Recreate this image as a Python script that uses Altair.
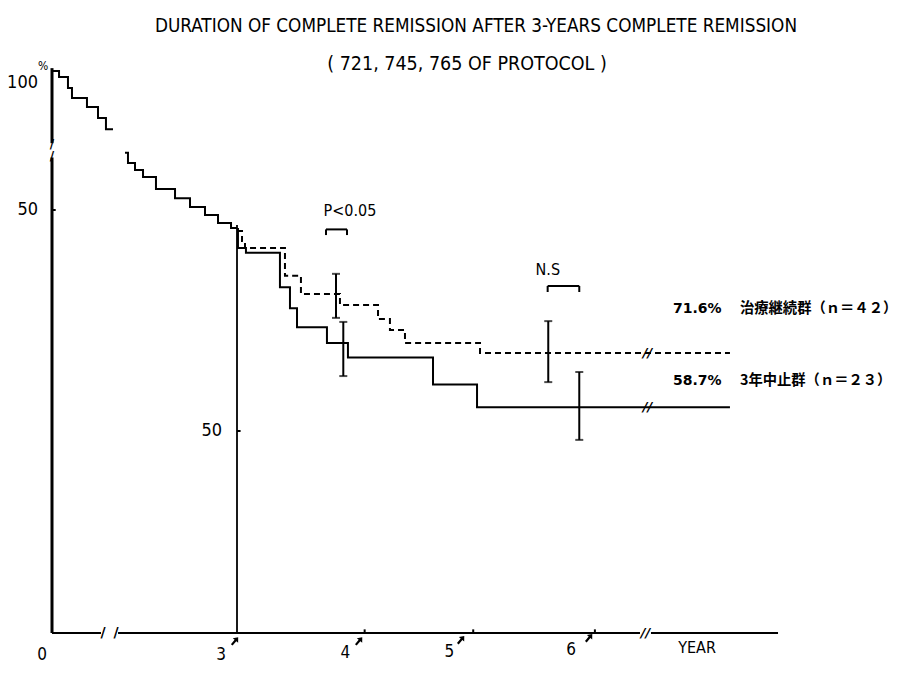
import altair as alt
import pandas as pd

# ------------------------------------------------------------------
# DATA
# ------------------------------------------------------------------
# Before 3 years: outer scale (% of all patients in CR), x in years
pre_seg1_year = [0.0, 0.114, 0.259, 0.324, 0.567, 0.746, 0.875, 0.989]
pre_seg1_pct = [100.4, 98.2, 94.2, 90.6, 87.3, 83.3, 79.3, 79.3]
pre_seg2_year = [1.184, 1.232, 1.346, 1.476, 1.686, 1.995, 2.238, 2.481, 2.692, 2.903, 3.0]
pre_seg2_pct = [70.7, 67.0, 64.5, 62.0, 57.6, 54.3, 51.1, 48.2, 45.3, 43.5, 43.5]

# After 3 years CR: inner scale (% of patients still in CR at 3 years)
cont_year = [3.0, 3.042, 3.067, 3.402, 3.536, 3.863, 4.182, 4.282, 4.408, 5.037, 7.132]
cont_pct = [99.5, 97.0, 95.3, 88.4, 83.9, 81.2, 77.7, 75.0, 71.8, 69.3, 69.3]
stop_year = [3.0, 3.008, 3.075, 3.360, 3.444, 3.503, 3.754, 3.930, 4.643, 5.012, 7.132]
stop_pct = [100.0, 95.3, 94.1, 85.6, 80.4, 75.7, 71.8, 68.2, 61.5, 55.9, 55.9]

# error bars
err_year = [3.830, 3.891, 5.609, 5.869]
err_low = [78.0, 63.6, 62.1, 47.8]
err_high = [88.9, 77.0, 77.2, 64.6]

# significance brackets
br_x1 = [3.746, 5.604]
br_x2 = [3.922, 5.869]
br_y = [99.9, 85.9]
br_leg = [98.5, 84.4]
br_text = ["P<0.05", "N.S"]
br_text_x = [3.947, 5.605]
br_text_y = [104.5, 89.9]

# end-of-curve annotations
leg_pct_text = ["71.6%", "58.7%"]
leg_name_text = ["治療継続群（ｎ＝４２）", "3年中止群（ｎ＝２３）"]
leg_y = [80.2, 62.4]
leg_pct_x = 6.655
leg_name_x = 7.216

# x axis labels (as placed in the picture)
xlab_text = ["3", "4", "5", "6"]
xlab_pos = [2.866, 3.908, 4.780, 5.800]
xlab_y = [-5.4, -5.0, -4.7, -4.2]
arrow_pos = [2.983, 4.023, 4.878, 5.951]
arrow_y = [-2.0, -2.0, -1.7, -1.2]
xtick_pos = [4.07, 4.98, 6.0]

TITLE = "DURATION OF COMPLETE REMISSION AFTER 3-YEARS COMPLETE REMISSION"
SUBTITLE = "( 721, 745, 765 OF PROTOCOL )"

# ------------------------------------------------------------------
# LAYOUT
# ------------------------------------------------------------------
W, H = 895, 657
PAGE = 8
# inner scale anchors (page px)
BX0, BPX = 237.0, 119.3     # year 3 at 237px
BY0, BPCT = 633.0, 4.04     # 0 % at 633px
# outer scale anchors
AX0, APX = 52.0, 61.667     # year 0 at 52px
AY0, APCT = 348.0, 2.76     # 0 % at 348px (100 % at 72px)

xb_dom = [3 + (PAGE - BX0) / BPX, 3 + (PAGE + W - BX0) / BPX]
yb_dom = [(BY0 - (PAGE + H)) / BPCT, (BY0 - PAGE) / BPCT]
xa_dom = [(PAGE - AX0) / APX, (PAGE + W - AX0) / APX]
ya_dom = [(AY0 - (PAGE + H)) / APCT, (AY0 - PAGE) / APCT]

COND = "DejaVu Sans Condensed, Liberation Sans Narrow, Roboto Condensed, DejaVu Sans"
BOLD = "DejaVu Sans"
CJK = "Noto Sans CJK JP"
ARROW = "M0,-1L0.7,-0.15L0.22,-0.15L0.22,1L-0.22,1L-0.22,-0.15L-0.7,-0.15Z"


def XA(f="x"):
    return alt.X(f"{f}:Q", scale=alt.Scale(domain=xa_dom, nice=False, zero=False), axis=None)


def YA(f="y"):
    return alt.Y(f"{f}:Q", scale=alt.Scale(domain=ya_dom, nice=False, zero=False), axis=None)


def XB(f="x"):
    return alt.X(f"{f}:Q", scale=alt.Scale(domain=xb_dom, nice=False, zero=False), axis=None)


def YB(f="y"):
    return alt.Y(f"{f}:Q", scale=alt.Scale(domain=yb_dom, nice=False, zero=False), axis=None)


# ------------------------------------------------------------------
# LAYER A: before 3 years (outer scale)
# ------------------------------------------------------------------
pre_df = pd.DataFrame({
    "x": pre_seg1_year + pre_seg2_year,
    "y": pre_seg1_pct + pre_seg2_pct,
    "seg": ["a"] * len(pre_seg1_year) + ["b"] * len(pre_seg2_year),
})
pre_line = alt.Chart(pre_df).mark_line(
    interpolate="step-after", color="black", strokeWidth=2
).encode(x=XA(), y=YA(), detail="seg:N")

yaxis_df = pd.DataFrame({"x": [0, 0], "y": [101.4, 69.0], "y2": [74.2, -103.3]})
yaxis = alt.Chart(yaxis_df).mark_rule(color="black", strokeWidth=3).encode(
    x=XA(), y=YA(), y2=alt.Y2("y2:Q"))

ybreak_df = pd.DataFrame({"x": [0, 0], "y": [74.0, 69.4], "t": ["/", "/"]})
ybreak = alt.Chart(ybreak_df).mark_text(
    font=BOLD, fontSize=12, fontWeight="bold", color="black"
).encode(x=XA(), y=YA(), text="t:N")

tickA_df = pd.DataFrame({"x": [0.0], "x2": [0.06], "y": [50.0]})
tickA = alt.Chart(tickA_df).mark_rule(color="black", strokeWidth=2).encode(
    x=XA(), x2=alt.X2("x2:Q"), y=YA())

ylabA_df = pd.DataFrame({"x": [0, 0], "y": [96.0, 50.0], "t": ["100", "50"]})
ylabA = alt.Chart(ylabA_df).mark_text(
    font=COND, fontSize=18, align="right", dx=-14, color="black"
).encode(x=XA(), y=YA(), text="t:N")

pctA = alt.Chart(pd.DataFrame({"x": [0], "y": [102.2], "t": ["%"]})).mark_text(
    font=COND, fontSize=12, dx=-9, color="black"
).encode(x=XA(), y=YA(), text="t:N")

zeroA = alt.Chart(pd.DataFrame({"x": [0], "y": [-111.2], "t": ["0"]})).mark_text(
    font=COND, fontSize=17, dx=-10, color="black"
).encode(x=XA(), y=YA(), text="t:N")

layerA = alt.layer(pre_line, yaxis, ybreak, tickA, ylabA, pctA, zeroA)

# ------------------------------------------------------------------
# LAYER B: after 3 years (inner scale) + all annotations
# ------------------------------------------------------------------
cont_df = pd.DataFrame({"x": cont_year, "y": cont_pct})
stop_df = pd.DataFrame({"x": stop_year, "y": stop_pct})
cont_line = alt.Chart(cont_df).mark_line(
    interpolate="step-after", color="black", strokeWidth=2, strokeDash=[6, 4]
).encode(x=XB(), y=YB())
stop_line = alt.Chart(stop_df).mark_line(
    interpolate="step-after", color="black", strokeWidth=2
).encode(x=XB(), y=YB())

# inner vertical axis at year 3
vline = alt.Chart(pd.DataFrame({"x": [3.0], "y": [0.0], "y2": [101.0]})).mark_rule(
    color="black", strokeWidth=1.8).encode(x=XB(), y=YB(), y2=alt.Y2("y2:Q"))
tickB = alt.Chart(pd.DataFrame({"x": [3.0], "x2": [3.03], "y": [50.0]})).mark_rule(
    color="black", strokeWidth=2).encode(x=XB(), x2=alt.X2("x2:Q"), y=YB())
ylabB = alt.Chart(pd.DataFrame({"x": [3.0], "y": [50.0], "t": ["50"]})).mark_text(
    font=COND, fontSize=18, align="right", dx=-15, color="black"
).encode(x=XB(), y=YB(), text="t:N")

# x axis (broken)
xaxis_df = pd.DataFrame({"x": [1.449, 2.003, 6.470], "x2": [1.860, 6.378, 7.535], "y": [0, 0, 0]})
xaxis = alt.Chart(xaxis_df).mark_rule(color="black", strokeWidth=2).encode(
    x=XB(), x2=alt.X2("x2:Q"), y=YB())
xbreak_df = pd.DataFrame({"x": [1.877, 1.986], "y": [0.0, 0.0], "t": ["/", "/"]})
xbreak = alt.Chart(xbreak_df).mark_text(
    font=BOLD, fontSize=14, fontWeight="bold", color="black"
).encode(x=XB(), y=YB(), text="t:N")
dbreak_df = pd.DataFrame({"x": [6.424, 6.441, 6.441], "y": [0.0, 69.3, 55.9], "t": ["//", "//", "//"]})
dbreak = alt.Chart(dbreak_df).mark_text(
    font=BOLD, fontSize=13, fontWeight="bold", fontStyle="italic", color="black"
).encode(x=XB(), y=YB(), text="t:N")
xticks = alt.Chart(pd.DataFrame({"x": xtick_pos, "y": [0.0] * 3, "y2": [0.9] * 3})).mark_rule(
    color="black", strokeWidth=2).encode(x=XB(), y=YB(), y2=alt.Y2("y2:Q"))

xlab = alt.Chart(pd.DataFrame({"x": xlab_pos, "y": xlab_y, "t": xlab_text})).mark_text(
    font=COND, fontSize=17, color="black"
).encode(x=XB(), y=YB(), text="t:N")
arrows = alt.Chart(pd.DataFrame({"x": arrow_pos, "y": arrow_y})).mark_point(
    shape=ARROW, angle=40, filled=True, size=100, color="black", opacity=1
).encode(x=XB(), y=YB())
year_lab = alt.Chart(pd.DataFrame({"x": [6.856], "y": [-3.7], "t": ["YEAR"]})).mark_text(
    font=COND, fontSize=16, color="black"
).encode(x=XB(), y=YB(), text="t:N")

# error bars
err_df = pd.DataFrame({"x": err_year, "lo": err_low, "hi": err_high})
err_rule = alt.Chart(err_df).mark_rule(color="black", strokeWidth=2).encode(
    x=XB(), y=YB("lo"), y2=alt.Y2("hi:Q"))
cap_lo = alt.Chart(err_df).mark_tick(color="black", thickness=2, size=8, orient="horizontal").encode(
    x=XB(), y=YB("lo"))
cap_hi = alt.Chart(err_df).mark_tick(color="black", thickness=2, size=8, orient="horizontal").encode(
    x=XB(), y=YB("hi"))

# brackets
br_df = pd.DataFrame({"x1": br_x1, "x2": br_x2, "y": br_y, "leg": br_leg})
br_top = alt.Chart(br_df).mark_rule(color="black", strokeWidth=2).encode(
    x=XB("x1"), x2=alt.X2("x2:Q"), y=YB())
br_l = alt.Chart(br_df).mark_rule(color="black", strokeWidth=2).encode(
    x=XB("x1"), y=YB(), y2=alt.Y2("leg:Q"))
br_r = alt.Chart(br_df).mark_rule(color="black", strokeWidth=2).encode(
    x=XB("x2"), y=YB(), y2=alt.Y2("leg:Q"))
br_lab = alt.Chart(pd.DataFrame({"x": br_text_x, "y": br_text_y, "t": br_text})).mark_text(
    font=COND, fontSize=16, color="black"
).encode(x=XB(), y=YB(), text="t:N")

# end annotations
leg_pct = alt.Chart(pd.DataFrame({"x": [leg_pct_x] * 2, "y": leg_y, "t": leg_pct_text})).mark_text(
    font=BOLD, fontSize=14, fontWeight="bold", align="left", color="black"
).encode(x=XB(), y=YB(), text="t:N")
leg_name = alt.Chart(pd.DataFrame({"x": [leg_name_x] * 2, "y": leg_y, "t": leg_name_text})).mark_text(
    font=CJK, fontSize=14.3, fontWeight="bold", align="left", color="black"
).encode(x=XB(), y=YB(), text="t:N")

# titles
title_mark = alt.Chart(pd.DataFrame({"x": [5.003], "y": [150.2], "t": [TITLE]})).mark_text(
    font=COND, fontSize=18.8, color="black"
).encode(x=XB(), y=YB(), text="t:N")
subtitle_mark = alt.Chart(pd.DataFrame({"x": [4.928], "y": [140.8], "t": [SUBTITLE]})).mark_text(
    font=COND, fontSize=19.5, color="black"
).encode(x=XB(), y=YB(), text="t:N")

layerB = alt.layer(
    vline, tickB, ylabB, xaxis, xbreak, xticks, xlab, arrows, year_lab,
    cont_line, stop_line, dbreak, err_rule, cap_lo, cap_hi,
    br_top, br_l, br_r, br_lab, leg_pct, leg_name, title_mark, subtitle_mark,
)

chart = alt.layer(layerA, layerB).resolve_scale(
    x="independent", y="independent"
).properties(
    width=W, height=H, padding=0,
    autosize=alt.AutoSizeParams(type="none"),
    background="white",
).configure_view(stroke="transparent")

chart.save("out.html", embed_options={"renderer": "svg", "actions": False})
